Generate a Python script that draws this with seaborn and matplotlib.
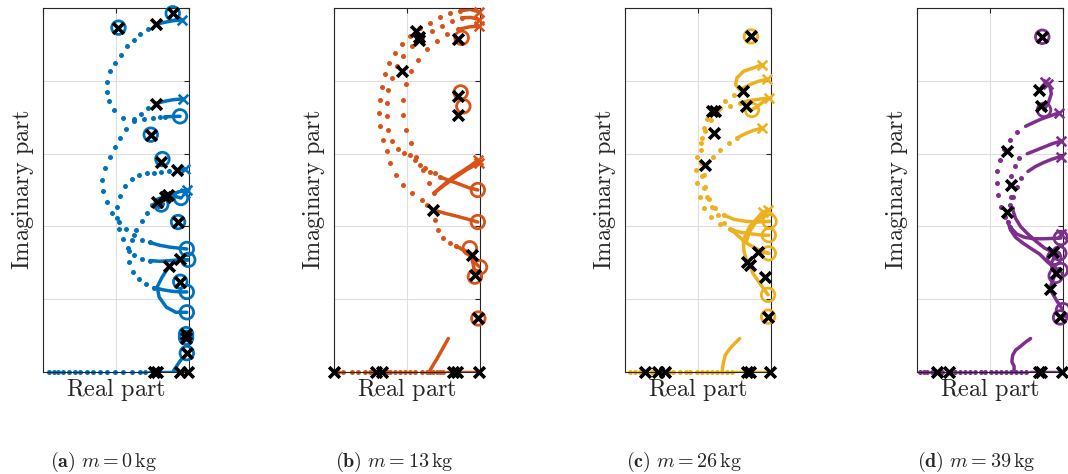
import matplotlib
matplotlib.use("Agg")
import matplotlib.pyplot as plt
import seaborn as sns

# Root-locus data (real part in [-2, 0], imaginary part in [0, 5])
MASSES = [0, 13, 26, 39]
LETTERS = ["a", "b", "c", "d"]
COLORS = ["#0072BD", "#D95319", "#EDB120", "#7E2F8E"]

# ---------------- (a) m = 0 kg ----------------
A_POLES = [(-0.966, 4.73), (-0.451, 4.775), (-0.223, 4.927), (-0.451, 3.687), (-0.524, 3.26),
           (-0.383, 2.879), (-0.169, 2.769), (-0.435, 2.335), (-0.33, 2.41), (-0.29, 2.43),
           (-0.15, 2.06), (-0.27, 1.456), (-0.12, 1.55), (-0.12, 1.24), (-0.04, 0.52),
           (-0.04, 0.47), (-0.03, 0.26), (-0.478, 0), (-0.435, 0), (-0.13, 0), (-0.01, 0)]
A_ZEROS = [(-0.966, 4.73), (-0.223, 4.927), (-0.123, 3.512), (-0.524, 3.26), (-0.364, 2.925),
           (-0.11, 2.39), (-0.15, 2.06), (-0.03, 1.69), (-0.01, 1.54), (-0.12, 1.24),
           (-0.03, 1.10), (-0.03, 0.82), (-0.04, 0.52), (-0.04, 0.47), (-0.03, 0.26), (-0.38, 2.30)]
A_ENDS = [(-0.10, 4.835), (-0.087, 3.751), (-0.055, 2.787), (-0.03, 2.50), (-0.06, 2.46)]
A_DOTS = [
    [(-0.556, 4.715), (-0.67, 4.637), (-0.76, 4.56), (-0.85, 4.48), (-0.934, 4.36), (-1.01, 4.25),
     (-1.08, 4.13), (-1.125, 3.99), (-1.13, 3.85), (-1.10, 3.72), (-1.03, 3.60), (-0.90, 3.49),
     (-0.76, 3.475), (-0.62, 3.48), (-0.50, 3.49), (-0.40, 3.50), (-0.33, 3.505)],
    [(-0.56, 3.62), (-0.66, 3.54), (-0.76, 3.45), (-0.86, 3.34), (-0.94, 3.22), (-1.01, 3.09),
     (-1.08, 2.95), (-1.15, 2.80), (-1.19, 2.64), (-1.18, 2.48), (-1.13, 2.33), (-1.05, 2.18),
     (-0.96, 2.06), (-0.86, 1.96), (-0.75, 1.88), (-0.64, 1.82), (-0.54, 1.78)],
    [(-0.28, 2.755), (-0.38, 2.748), (-0.48, 2.74), (-0.58, 2.73), (-0.68, 2.71), (-0.78, 2.65),
     (-0.87, 2.55), (-0.94, 2.42), (-0.98, 2.27), (-0.99, 2.12), (-0.96, 1.97), (-0.91, 1.83),
     (-0.84, 1.70), (-0.75, 1.61), (-0.64, 1.555), (-0.53, 1.53)],
    [(-0.51, 2.29), (-0.58, 2.19), (-0.65, 2.08), (-0.72, 1.95), (-0.78, 1.81), (-0.82, 1.66),
     (-0.82, 1.51), (-0.77, 1.38), (-0.69, 1.28), (-0.59, 1.21), (-0.48, 1.16)],
]
A_LINES = [
    [(-0.451, 4.775), (-0.35, 4.80), (-0.22, 4.825), (-0.10, 4.835)],
    [(-0.33, 3.505), (-0.22, 3.51), (-0.123, 3.512)],
    [(-0.451, 3.687), (-0.35, 3.715), (-0.22, 3.74), (-0.087, 3.751)],
    [(-0.169, 2.769), (-0.11, 2.78), (-0.055, 2.787)],
    [(-0.33, 2.41), (-0.22, 2.45), (-0.12, 2.48), (-0.03, 2.50)],
    [(-0.29, 2.43), (-0.20, 2.415), (-0.11, 2.39)],
    [(-0.435, 2.335), (-0.44, 2.29), (-0.41, 2.26), (-0.37, 2.27), (-0.35, 2.31)],
    [(-0.54, 1.78), (-0.40, 1.74), (-0.26, 1.715), (-0.13, 1.70), (-0.03, 1.69)],
    [(-0.53, 1.53), (-0.40, 1.52), (-0.26, 1.53), (-0.12, 1.54), (-0.01, 1.54)],
    [(-0.27, 1.456), (-0.37, 1.30), (-0.435, 1.17), (-0.41, 1.03), (-0.31, 0.89), (-0.18, 0.82), (-0.03, 0.82)],
    [(-0.48, 1.16), (-0.36, 1.13), (-0.24, 1.11), (-0.12, 1.10), (-0.03, 1.10)],
    [(-0.12, 1.55), (-0.07, 1.545), (-0.01, 1.54)],
    [(-0.21, 0.02), (-0.17, 0.08), (-0.13, 0.14), (-0.10, 0.18)],
    [(-0.55, 0.0), (0.0, 0.0)],
]
A_AXIS = [-1.92, -1.85, -1.79, -1.72, -1.65, -1.56, -1.49, -1.40, -1.31, -1.22, -1.13,
          -1.02, -0.90, -0.78, -0.67, -0.60]

# ---------------- (b) m = 13 kg ----------------
B_POLES = [(-0.877, 4.68), (-0.83, 4.60), (-0.84, 4.56), (-1.073, 4.13), (-0.306, 4.58),
           (-0.306, 3.79), (-0.306, 3.535), (-0.64, 2.225), (-0.11, 1.61), (-0.07, 1.33),
           (-0.023, 0.735), (-2.0, 0), (-1.425, 0), (-1.347, 0), (-0.365, 0), (-0.32, 0), (-0.01, 0)]
B_ZEROS = [(-0.251, 4.59), (-0.265, 3.84), (-0.228, 3.65), (-0.03, 2.50), (-0.03, 2.06),
           (-0.14, 1.70), (0.0, 1.44), (-0.07, 1.31), (-0.023, 0.735)]
B_ENDS = [(-0.02, 4.95), (-0.01, 4.84), (-0.01, 4.75), (-0.03, 2.91), (-0.02, 2.87)]
B_DOTS = [
    [(-0.274, 4.96), (-0.411, 4.93), (-0.548, 4.87), (-0.685, 4.80), (-0.822, 4.72), (-0.959, 4.61),
     (-1.073, 4.50), (-1.164, 4.385), (-1.242, 4.25), (-1.30, 4.09), (-1.347, 3.92), (-1.37, 3.74),
     (-1.379, 3.56), (-1.37, 3.375), (-1.333, 3.19), (-1.279, 3.03), (-1.233, 2.87), (-1.15, 2.71),
     (-1.05, 2.57), (-0.936, 2.456), (-0.80, 2.36), (-0.72, 2.30)],
    [(-0.251, 4.867), (-0.388, 4.82), (-0.525, 4.75), (-0.662, 4.68), (-0.80, 4.59), (-0.936, 4.477),
     (-1.05, 4.34), (-1.142, 4.20), (-1.21, 4.04), (-1.256, 3.88), (-1.279, 3.70), (-1.279, 3.51),
     (-1.256, 3.33), (-1.21, 3.17), (-1.13, 3.07), (-1.04, 3.01), (-0.96, 2.98), (-0.89, 2.91),
     (-0.82, 2.84), (-0.75, 2.80), (-0.685, 2.75), (-0.62, 2.73), (-0.55, 2.68)],
    [(-0.297, 4.706), (-0.457, 4.637), (-0.594, 4.545), (-0.73, 4.43), (-0.845, 4.29), (-0.95, 4.13),
     (-1.014, 3.95), (-1.05, 3.74), (-1.05, 3.535), (-1.014, 3.33), (-0.95, 3.145), (-0.87, 2.96),
     (-0.78, 2.78), (-0.70, 2.60), (-0.63, 2.46)],
    [(-0.62, 2.09), (-0.575, 1.95), (-0.51, 1.84), (-0.41, 1.77), (-0.33, 1.73)],
]
B_LINES = [
    [(-0.274, 4.96), (-0.137, 4.98), (-0.02, 4.95)],
    [(-0.251, 4.867), (-0.12, 4.87), (-0.01, 4.84)],
    [(-0.297, 4.706), (-0.15, 4.74), (-0.01, 4.75)],
    [(-0.55, 2.68), (-0.42, 2.63), (-0.28, 2.58), (-0.15, 2.53), (-0.03, 2.50)],
    [(-0.63, 2.46), (-0.50, 2.57), (-0.38, 2.67), (-0.24, 2.76), (-0.12, 2.84), (-0.03, 2.91)],
    [(-0.60, 2.48), (-0.47, 2.58), (-0.33, 2.68), (-0.18, 2.78), (-0.02, 2.87)],
    [(-0.64, 2.225), (-0.48, 2.18), (-0.32, 2.14), (-0.17, 2.10), (-0.03, 2.06)],
    [(-0.33, 1.73), (-0.19, 1.66), (-0.11, 1.61), (-0.07, 1.50), (0.0, 1.44)],
    [(-0.27, 1.70), (-0.17, 1.64), (-0.11, 1.55), (-0.08, 1.42), (-0.07, 1.33)],
    [(-0.685, 0.02), (-0.64, 0.10), (-0.59, 0.18), (-0.54, 0.27), (-0.49, 0.36), (-0.434, 0.46)],
    [(-0.45, 0.0), (0.0, 0.0)],
]
B_AXIS = [-1.94, -1.87, -1.76, -1.67, -1.58, -1.51, -1.28, -1.23, -1.16, -1.10, -1.03,
          -0.96, -0.89, -0.80, -0.73, -0.685, -0.64, -0.594, -0.548, -0.502]

# ---------------- (c) m = 26 kg ----------------
C_POLES = [(-0.275, 4.61), (-0.384, 3.857), (-0.339, 3.66), (-0.81, 3.58), (-0.764, 3.59),
           (-0.787, 3.28), (-0.90, 2.85), (-0.18, 1.65), (-0.33, 1.51), (-0.29, 1.47),
           (-0.08, 1.31), (-0.04, 0.76), (-1.725, 0), (-1.542, 0), (-1.451, 0), (-0.33, 0),
           (-0.284, 0), (-0.018, 0)]
C_ZEROS = [(-0.275, 4.61), (-0.261, 3.60), (-0.02, 2.07), (-0.03, 1.88), (-0.03, 1.63),
           (-0.04, 1.06), (-0.04, 0.76)]
C_ENDS = [(-0.124, 4.22), (-0.055, 4.02), (-0.032, 3.76), (-0.124, 3.35), (-0.11, 2.20), (-0.04, 2.23)]
C_DOTS = [
    [(-0.398, 3.89), (-0.513, 3.81), (-0.627, 3.72), (-0.732, 3.60), (-0.824, 3.466), (-0.90, 3.306),
     (-0.961, 3.145), (-1.007, 2.96), (-1.025, 2.78), (-1.016, 2.594), (-0.979, 2.41), (-0.915, 2.25),
     (-0.824, 2.126), (-0.705, 2.034), (-0.567, 1.96)],
    [(-0.421, 3.70), (-0.558, 3.66), (-0.696, 3.62), (-0.87, 3.476), (-0.915, 3.35), (-0.943, 3.214),
     (-0.961, 3.05), (-0.961, 2.87), (-0.947, 2.686), (-0.915, 2.525), (-0.856, 2.374),
     (-0.764, 2.25), (-0.65, 2.158)],
    [(-0.467, 3.214), (-0.581, 3.145), (-0.696, 3.053), (-0.796, 2.952), (-0.915, 2.71),
     (-0.90, 2.548), (-0.87, 2.40), (-0.81, 2.273), (-0.732, 2.158), (-0.64, 2.052), (-0.535, 1.95)],
]
C_LINES = [
    [(-0.124, 4.22), (-0.238, 4.178), (-0.375, 4.132), (-0.467, 4.04), (-0.485, 3.95), (-0.43, 3.88), (-0.384, 3.857)],
    [(-0.055, 4.02), (-0.169, 3.995), (-0.284, 3.95), (-0.398, 3.89)],
    [(-0.032, 3.76), (-0.146, 3.75), (-0.284, 3.73), (-0.421, 3.70)],
    [(-0.032, 3.76), (-0.12, 3.70), (-0.20, 3.64), (-0.261, 3.60)],
    [(-0.124, 3.35), (-0.238, 3.32), (-0.352, 3.274), (-0.467, 3.214)],
    [(-0.567, 1.96), (-0.421, 1.92), (-0.261, 1.896), (-0.10, 1.88), (-0.03, 1.88)],
    [(-0.65, 2.158), (-0.513, 2.098), (-0.352, 2.07), (-0.192, 2.06), (-0.02, 2.07)],
    [(-0.535, 1.95), (-0.43, 1.85), (-0.33, 1.768), (-0.215, 1.70), (-0.10, 1.653), (-0.03, 1.63)],
    [(-0.11, 2.20), (-0.29, 2.00), (-0.38, 1.81), (-0.37, 1.66), (-0.33, 1.51)],
    [(-0.04, 2.23), (-0.12, 2.14), (-0.22, 2.04), (-0.30, 1.92), (-0.34, 1.78)],
    [(-0.29, 1.47), (-0.25, 1.36), (-0.12, 1.17), (-0.04, 1.06)],
    [(-0.18, 1.65), (-0.10, 1.64), (-0.03, 1.63)],
    [(-0.67, 0.0), (-0.66, 0.08), (-0.65, 0.138), (-0.627, 0.23), (-0.58, 0.30), (-0.535, 0.354), (-0.476, 0.413), (-0.43, 0.46)],
    [(-0.50, 0.0), (0.0, 0.0)],
]
C_AXIS = [-1.93, -1.86, -1.79, -1.63, -1.59, -1.40, -1.34, -1.24, -1.17, -1.11, -1.02,
          -0.95, -0.88, -0.81, -0.74, -0.67, -0.60, -0.535]

# ---------------- (d) m = 39 kg ----------------
D_POLES = [(-0.284, 4.605), (-0.33, 3.88), (-0.307, 3.66), (-0.764, 3.03), (-0.718, 2.57),
           (-0.764, 2.204), (-0.14, 1.65), (-0.10, 1.36), (-0.18, 1.14), (-0.04, 0.75),
           (-1.725, 0), (-1.565, 0), (-0.33, 0), (-0.307, 0), (-0.009, 0)]
D_ZEROS = [(-0.284, 4.605), (-0.26, 3.60), (-0.03, 1.84), (-0.05, 1.63), (-0.12, 1.57),
           (-0.03, 1.40), (-0.10, 1.32), (0.0, 0.85), (-0.04, 0.75)]
D_ENDS = [(-0.24, 3.99), (-0.20, 3.95), (-0.055, 3.56), (-0.032, 3.17), (-0.032, 2.96), (-0.03, 1.90)]
D_DOTS = [
    [(-0.627, 3.29), (-0.728, 3.19), (-0.81, 3.06), (-0.865, 2.915), (-0.90, 2.755), (-0.91, 2.594),
     (-0.892, 2.433), (-0.856, 2.273), (-0.80, 2.126), (-0.728, 1.997)],
    [(-0.604, 2.94), (-0.664, 2.824), (-0.709, 2.695), (-0.72, 2.57), (-0.718, 2.41), (-0.696, 2.25)],
    [(-0.572, 2.663), (-0.636, 2.548), (-0.682, 2.41), (-0.72, 2.30), (-0.755, 2.066)],
]
D_LINES = [
    [(-0.24, 3.99), (-0.18, 3.93), (-0.16, 3.82), (-0.20, 3.70), (-0.26, 3.60)],
    [(-0.33, 3.88), (-0.25, 3.92), (-0.20, 3.95)],
    [(-0.055, 3.56), (-0.169, 3.52), (-0.284, 3.48), (-0.398, 3.43), (-0.513, 3.375)],
    [(-0.032, 3.17), (-0.146, 3.136), (-0.261, 3.09), (-0.375, 3.044), (-0.49, 2.998)],
    [(-0.032, 2.96), (-0.146, 2.925), (-0.261, 2.879), (-0.375, 2.824), (-0.48, 2.755)],
    [(-0.728, 1.997), (-0.636, 1.896), (-0.526, 1.85), (-0.40, 1.83), (-0.27, 1.83), (-0.14, 1.835), (-0.03, 1.84)],
    [(-0.696, 2.25), (-0.65, 2.112), (-0.581, 1.997), (-0.49, 1.905), (-0.375, 1.80), (-0.25, 1.70), (-0.12, 1.64), (-0.05, 1.63)],
    [(-0.755, 2.066), (-0.718, 1.95), (-0.65, 1.85), (-0.558, 1.777), (-0.444, 1.70), (-0.32, 1.62), (-0.20, 1.50), (-0.10, 1.42), (-0.03, 1.40)],
    [(-0.12, 1.57), (-0.16, 1.50), (-0.15, 1.42), (-0.10, 1.36), (-0.05, 1.42)],
    [(-0.18, 1.14), (-0.14, 1.26), (-0.10, 1.36)],
    [(-0.18, 1.14), (-0.08, 0.97), (0.0, 0.85)],
    [(-0.67, 0.0), (-0.67, 0.08), (-0.70, 0.14), (-0.69, 0.23), (-0.65, 0.30), (-0.58, 0.354), (-0.51, 0.413), (-0.444, 0.46)],
    [(-0.45, 0.0), (0.0, 0.0)],
]
D_AXIS = [-1.954, -1.908, -1.863, -1.794, -1.748, -1.657, -1.542, -1.474, -1.405, -1.336, -1.268,
          -1.199, -1.13, -1.062, -0.993, -0.924, -0.856, -0.787, -0.719, -0.65, -0.581, -0.513]

PANELS = [
    (A_POLES, A_ZEROS, A_ENDS, A_DOTS, A_LINES, A_AXIS),
    (B_POLES, B_ZEROS, B_ENDS, B_DOTS, B_LINES, B_AXIS),
    (C_POLES, C_ZEROS, C_ENDS, C_DOTS, C_LINES, C_AXIS),
    (D_POLES, D_ZEROS, D_ENDS, D_DOTS, D_LINES, D_AXIS),
]

sns.set_style("white")
plt.rcParams["mathtext.fontset"] = "cm"
plt.rcParams["font.family"] = ["DejaVu Serif"]

fig = plt.figure(figsize=(10.68, 4.74), dpi=100)
lefts = [43, 334, 625, 917]
caption_x = [0.097, 0.369, 0.641, 0.914]

for i, (poles, zeros, ends, dots, lines, axis_x) in enumerate(PANELS):
    color = COLORS[i]
    ax = fig.add_axes([lefts[i] / 1068, 102 / 474, 146 / 1068, 364 / 474])

    # dense parts of the locus
    for seg in lines:
        sns.lineplot(x=[p[0] for p in seg], y=[p[1] for p in seg], ax=ax, color=color,
                     lw=2.5, sort=False, estimator=None, legend=False, zorder=2)
    # sparse (dotted) parts of the locus
    for br in dots:
        sns.scatterplot(x=[p[0] for p in br], y=[p[1] for p in br], ax=ax, color=color,
                        s=13, linewidth=0, legend=False, zorder=2)
    sns.scatterplot(x=axis_x, y=[0.0] * len(axis_x), ax=ax, color=color, s=13,
                    linewidth=0, legend=False, zorder=2, clip_on=False)

    ax.scatter([p[0] for p in zeros], [p[1] for p in zeros], s=95, facecolors="none",
               edgecolors=color, linewidths=2.0, zorder=3, clip_on=False)
    ax.scatter([p[0] for p in ends], [p[1] for p in ends], s=48, marker="x",
               color=color, linewidths=1.9, zorder=3, clip_on=False)
    ax.scatter([p[0] for p in poles], [p[1] for p in poles], s=60, marker="x",
               color="black", linewidths=2.6, zorder=4, clip_on=False)

    ax.set_xlim(-2, 0)
    ax.set_ylim(0, 5)
    ax.set_xticks([-2, -1, 0])
    ax.set_yticks([0, 1, 2, 3, 4, 5])
    ax.grid(True, color="#dedede", lw=0.8)
    ax.set_axisbelow(True)
    ax.tick_params(direction="in", length=3.5, width=0.8, labelleft=False, labelbottom=False,
                   top=True, right=True, colors="#262626")
    for sp in ax.spines.values():
        sp.set_visible(True)
        sp.set_color("#262626")
        sp.set_linewidth(0.8)
    ax.set_xlabel(r"$\mathrm{Real\ part}$", fontsize=17.5, labelpad=3)
    ax.set_ylabel(r"$\mathrm{Imaginary\ part}$", fontsize=17.5, labelpad=5)

    fig.text(caption_x[i], 0.025,
             r"$\mathbf{(%s)}\ m = %d\,\mathrm{kg}$" % (LETTERS[i], MASSES[i]),
             ha="center", va="center", fontsize=14.5)

plt.savefig("out.png", dpi=100)
